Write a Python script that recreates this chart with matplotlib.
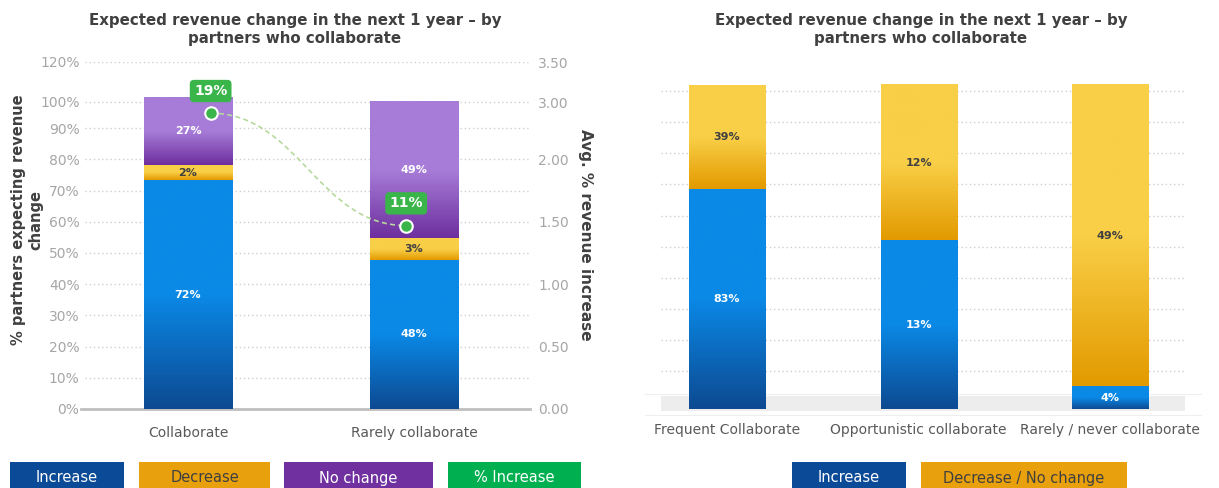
import numpy as np
import matplotlib
matplotlib.use('Agg')
import matplotlib.pyplot as plt
from matplotlib.colors import LinearSegmentedColormap
from matplotlib.patches import Rectangle, PathPatch
from matplotlib.path import Path

# left chart data
cats_left = ['Collaborate', 'Rarely collaborate']
increase_h = [73.3, 47.8]
decrease_h = [4.9, 6.9]
nochange_h = [21.6, 43.8]
increase_lbl = ['72%', '48%']
decrease_lbl = ['2%', '3%']
nochange_lbl = ['27%', '49%']
pct_increase = [2.37, 1.47]
pct_increase_lbl = ['19%', '11%']
left_names = ['Increase', 'Decrease', 'No change', '% Increase']

left_ticks = [0, 10, 20, 30, 40, 50, 60, 70, 80, 90, 98.5, 111.3]
left_tick_lbl = ['0%', '10%', '20%', '30%', '40%', '50%', '60%', '70%', '80%', '90%', '100%', '120%']
right_ticks = [0, 0.5, 1.0, 1.5, 2.0, 2.46, 2.78]
right_tick_lbl = ['0.00', '0.50', '1.00', '1.50', '2.00', '3.00', '3.50']

# right chart data
cats_right = ['Frequent Collaborate', 'Opportunistic collaborate', 'Rarely / never collaborate']
r_increase_h = [68, 52, 7]
r_other_h = [32, 48, 93]
r_increase_lbl = ['83%', '13%', '4%']
r_other_lbl = ['39%', '12%', '49%']
right_names = ['Increase', 'Decrease / No change']

W, H = 1219, 488
BLUE = ('#0A89E6', '#0D4A92')
YELLOW = ('#F9CF47', '#E39A00')
PURPLE = ('#A77CD8', '#6E2F9E')
GREEN = '#3AB54A'
DARK = '#404040'
GRAY = '#A6A6A6'


def seg(ax, xc, bottom, h, w, colors, z=2):
    ax.bar(xc, h, w, bottom=bottom, color='none', edgecolor='none', zorder=z)
    cmap = LinearSegmentedColormap.from_list('g', [colors[1], colors[0], colors[0]])
    ax.imshow(np.linspace(0, 1, 200).reshape(-1, 1), cmap=cmap, origin='lower',
              extent=(xc - w / 2, xc + w / 2, bottom, bottom + h),
              aspect='auto', zorder=z, interpolation='bilinear')


fig = plt.figure(figsize=(W / 100, H / 100), dpi=100)

# ---------- left chart ----------
ax = fig.add_axes([85 / W, 1 - 409 / H, 445 / W, (409 - 61.7) / H])
x = np.arange(len(cats_left))
bw = 0.39
for i in range(len(cats_left)):
    b0 = 0
    for h, lbl, col, tc in [(increase_h[i], increase_lbl[i], BLUE, 'white'),
                            (decrease_h[i], decrease_lbl[i], YELLOW, DARK),
                            (nochange_h[i], nochange_lbl[i], PURPLE, 'white')]:
        seg(ax, x[i], b0, h, bw, col)
        ax.text(x[i], b0 + h / 2, lbl, ha='center', va='center', color=tc,
                fontsize=8, fontweight='bold', zorder=4)
        b0 += h

ax.set_xlim(-0.456, 1.513)
ax.set_ylim(0, 111.3)
ax.set_yticks(left_ticks, left_tick_lbl)
ax.set_xticks(x, cats_left)
ax.tick_params(axis='y', length=0, labelsize=10, labelcolor=GRAY, pad=4)
ax.tick_params(axis='x', length=0, labelsize=10, labelcolor='#595959', pad=12)
ax.yaxis.grid(True, linestyle=(0, (1, 2)), color='#CFCFCF', lw=1)
ax.set_axisbelow(True)
for sp in ax.spines.values():
    sp.set_visible(False)
ax.axhline(0, xmin=-0.01, xmax=1.0, color='#BFBFBF', lw=2, clip_on=False, zorder=1)

ax2 = ax.twinx()
ax2.set_ylim(0, 2.783)
ax2.set_yticks(right_ticks, right_tick_lbl)
ax2.tick_params(axis='y', length=0, labelsize=10, labelcolor=GRAY, pad=6)
for sp in ax2.spines.values():
    sp.set_visible(False)

pt_shift = [0.1, -0.035]
px = x + np.array(pt_shift)
dx = px[1] - px[0]
verts = [(px[0], pct_increase[0]), (px[0] + 0.45 * dx, pct_increase[0]),
         (px[1] - 0.45 * dx, pct_increase[1]), (px[1], pct_increase[1])]
curve = Path(verts, [Path.MOVETO, Path.CURVE4, Path.CURVE4, Path.CURVE4])
ax2.add_patch(PathPatch(curve, fc='none', ec='#B5D99C', lw=1.2, ls=(0, (3, 2)), zorder=4))
ax2.plot(px, pct_increase, 'o', ms=9, mfc=GREEN, mec='white', mew=1.5, zorder=5)
for xi, yi, lbl in zip(px, pct_increase, pct_increase_lbl):
    ax2.annotate(lbl, (xi, yi), xytext=(0, 16), textcoords='offset points',
                 ha='center', va='center', color='white', fontsize=10, fontweight='bold',
                 bbox=dict(boxstyle='round,pad=0.3', fc=GREEN, ec='none'), zorder=6)

fig.text(27 / W, 1 - 220 / H, '% partners expecting revenue\nchange', rotation=90,
         ha='center', va='center', multialignment='center', fontsize=10.5,
         fontweight='bold', color=DARK)
fig.text(585 / W, 1 - 235 / H, 'Avg. % revenue increase', rotation=270,
         ha='center', va='center', fontsize=11, fontweight='bold', color=DARK)
fig.text(295 / W, 1 - 30 / H, 'Expected revenue change in the next 1 year \u2013 by\npartners who collaborate',
         ha='center', va='center', multialignment='center', fontsize=10.8,
         fontweight='bold', color=DARK, linespacing=1.25)

# ---------- right chart ----------
axr = fig.add_axes([661 / W, 1 - 418.7 / H, 524 / W, 346.7 / H])
xr = np.arange(len(cats_right))
bwr = 0.397
for i in range(len(cats_right)):
    seg(axr, xr[i], 0, r_increase_h[i], bwr, BLUE)
    axr.text(xr[i], r_increase_h[i] / 2, r_increase_lbl[i], ha='center', va='center',
             color='white', fontsize=8, fontweight='bold', zorder=4)
    seg(axr, xr[i], r_increase_h[i], r_other_h[i], bwr, YELLOW)
    axr.text(xr[i], r_increase_h[i] + r_other_h[i] / 2, r_other_lbl[i], ha='center',
             va='center', color=DARK, fontsize=8, fontweight='bold', zorder=4)

axr.set_xlim(-0.345, 2.39)
axr.set_ylim(-3, 104)
axr.set_yticks(np.arange(11.7, 100, 9.6))
axr.tick_params(axis='y', length=0, labelleft=False)
axr.set_xticks(xr, cats_right)
axr.tick_params(axis='x', length=0, labelsize=10, labelcolor='#595959', pad=3)
axr.yaxis.grid(True, linestyle=(0, (1, 2)), color='#CFCFCF', lw=1)
axr.set_axisbelow(True)
for sp in axr.spines.values():
    sp.set_visible(False)
axr.axhspan(-0.5, 4.0, xmin=-0.01, xmax=1.01, color='#EDEDED', lw=0, zorder=0.5)
axr.axhline(4.6, xmin=-0.03, xmax=1.03, color='#EFEFEF', lw=0.8, clip_on=False, zorder=0.5)
axr.axhline(-1.85, xmin=-0.03, xmax=1.03, color='#EFEFEF', lw=0.8, clip_on=False, zorder=0.5)

fig.text(921 / W, 1 - 30 / H, 'Expected revenue change in the next 1 year \u2013 by\npartners who collaborate',
         ha='center', va='center', multialignment='center', fontsize=10.8,
         fontweight='bold', color=DARK, linespacing=1.25)

# ---------- legends ----------
left_leg = [(10, 124, '#0B4A96', 'white'), (139, 270, '#E8A00C', DARK),
            (284, 433, '#7030A0', 'white'), (448, 581, '#00B050', 'white')]
right_leg = [(792, 906, '#0B4A96', 'white'), (921, 1127, '#E8A00C', DARK)]
for names, boxes in [(left_names, left_leg), (right_names, right_leg)]:
    for name, (x0, x1, fc, tc) in zip(names, boxes):
        fig.add_artist(Rectangle((x0 / W, -0.01), (x1 - x0) / W, 0.01 + 26 / H,
                                 transform=fig.transFigure, fc=fc, ec='none'))
        fig.text((x0 + x1) / 2 / W, 1 - 478 / H, name, ha='center', va='center',
                 fontsize=10.5, color=tc)

fig.savefig('out.png', dpi=100)
